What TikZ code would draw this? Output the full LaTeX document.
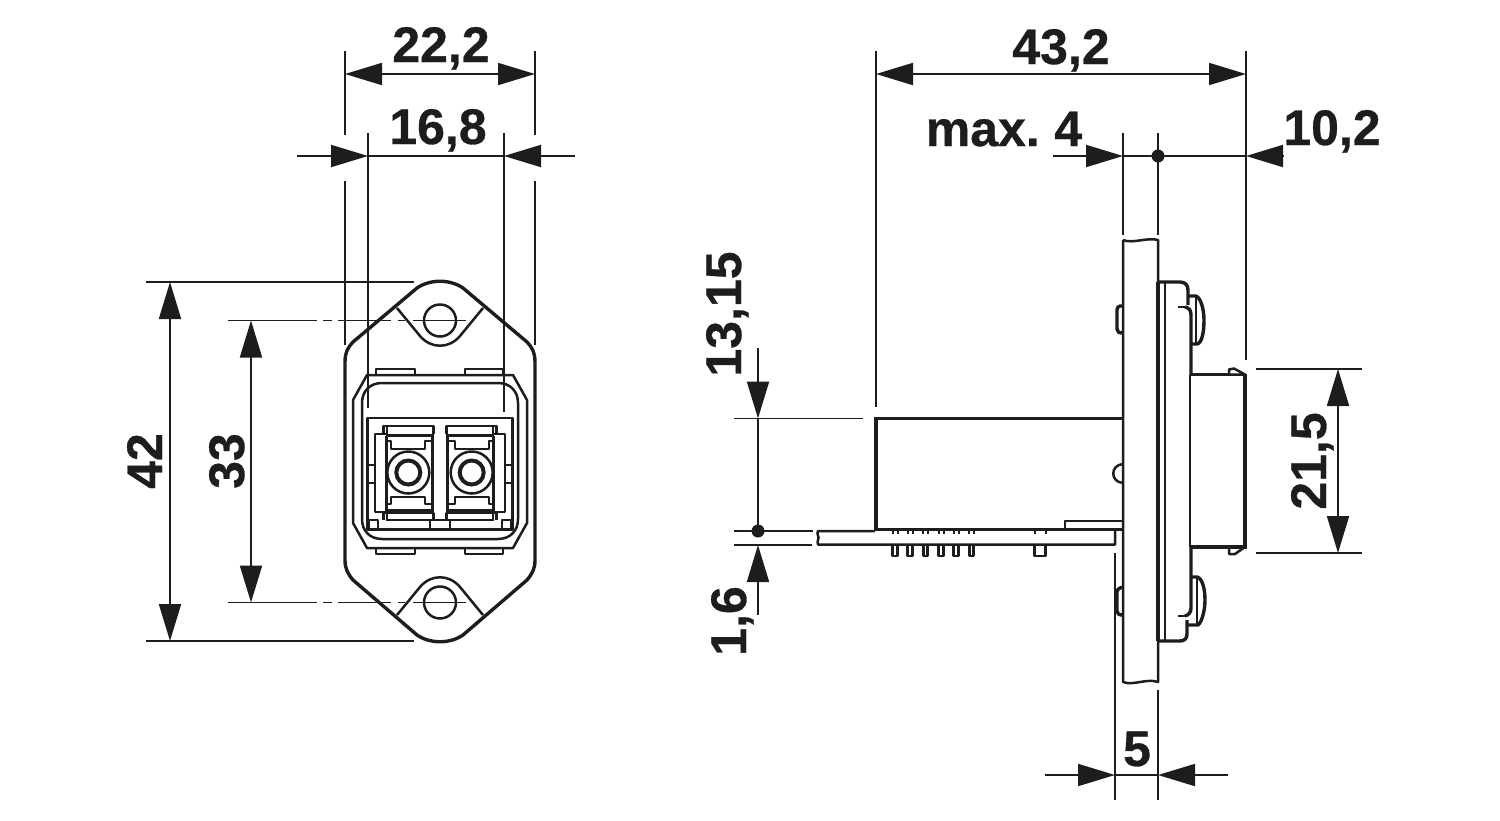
\documentclass[tikz,border=0pt]{standalone}
\usepackage{fontspec}
\setmainfont[WordSpace=0.72,BoldFeatures={FakeBold=0.6}]{Liberation Sans}
\usetikzlibrary{arrows.meta}
\tikzset{
  dim/.style={line width=1.9pt,draw=ink},
  dimar/.style={dim,-{Triangle[length=37pt,width=22pt]}},
  dimbar/.style={dim,{Triangle[length=37pt,width=22pt]}-{Triangle[length=37pt,width=22pt]}},
  ext/.style={line width=1.9pt,draw=ink},
  heavy/.style={line width=3.4pt,draw=ink,line join=round},
  mid/.style={line width=2.5pt,draw=ink,line join=round},
  thin2/.style={line width=2pt,draw=ink,line join=round},
  lab/.style={font=\fontsize{50}{50}\selectfont\bfseries,text=ink,inner sep=0pt,anchor=base},
  lbl/.style={lab,rotate=90}
}
\definecolor{ink}{HTML}{1D1D1B}
\begin{document}
\begin{tikzpicture}[x=1pt,y=-1pt]
\useasboundingbox (0,0) rectangle (1500,820);
% ---------- FRONT VIEW ----------
\draw[heavy] (417,288) .. controls (430,279) and (450,279) .. (463,288) -- (527,342)
  .. controls (532,347) and (535,353) .. (535,362) -- (535,560)
  .. controls (535,569) and (532,574) .. (527,580) -- (463,635)
  .. controls (450,644) and (430,644) .. (417,635) -- (353,580)
  .. controls (348,574) and (345,569) .. (345,560) -- (345,362)
  .. controls (345,353) and (348,347) .. (353,342) -- cycle;
\draw[mid] (397,308) -- (420,336) .. controls (431,349) and (449,349) .. (460,336) -- (483,308);
\draw[mid] (397,615) -- (420,587) .. controls (431,574) and (449,574) .. (460,587) -- (483,615);
\draw[mid] (440,320.5) circle (16);
\draw[mid] (440,602.5) circle (16);
% clips
\foreach \xa/\xb in {376/415,465/503}{
  \draw[mid] (\xa,375) -- (\xa,369) -- (\xb,369) -- (\xb,375);
  \draw[mid] (\xa,548) -- (\xa,554) -- (\xb,554) -- (\xb,548);
}
% frames
\draw[mid] (367,375) -- (513,375) -- (527,400) -- (527,523) -- (513,548) -- (367,548) -- (353,523) -- (353,400) -- cycle;
\draw[mid] (382,383) -- (498,383) .. controls (510,383) and (518,391) .. (518,403) -- (518,519)
  .. controls (518,531) and (510,539) .. (498,539) -- (382,539)
  .. controls (370,539) and (362,531) .. (362,519) -- (362,403)
  .. controls (362,391) and (370,383) .. (382,383) -- cycle;
\draw[mid] (367.5,530) -- (367.5,418) -- (512.5,418) -- (512.5,530);
\draw[line width=3.8pt,draw=ink] (367,529.5) -- (513,529.5);
% side bars
\foreach \xa/\xb in {367/375,505/513}{
  \draw[thin2] (\xa,465) -- (\xb,465) (\xa,483) -- (\xb,483);
}
% small bottom corners
\draw[thin2] (369,528) -- (369,520) -- (378,520) -- (378,528);
\draw[thin2] (511,528) -- (511,520) -- (502,520) -- (502,528);
% bottom centre bar
\draw[thin2] (386,520) -- (494,520);
\draw[mid] (430,520) -- (430,528) (450,520) -- (450,528);
% the two ports
\draw[mid] (375,434) -- (387,434) -- (387,512) -- (375,512) -- cycle;
\draw[mid] (505,434) -- (493,434) -- (493,512) -- (505,512) -- cycle;
\foreach \xo/\sg in {408.3/1,471.7/-1}{
  \begin{scope}[shift={(\xo,0)},xscale=\sg]
  \draw[mid] (-25,434) -- (-25,426) -- (25,426) -- (25,434);
  \draw[thin2] (-21.5,426) -- (-21.5,434);
  \draw[mid] (-25,520) -- (-25,513) -- (25,513) -- (25,520);
  \draw[thin2] (-21.5,513) -- (-21.5,520);
  \draw[line width=3.4pt,draw=ink] (-22,435.5) -- (24,435.5) -- (24,510.5) -- (-22,510.5);
  \draw[mid] (-22,435.5) -- (-22,510.5);
  \draw[thin2] (-22,441) -- (-17,441) -- (-17,449) -- (17,449) -- (17,441) -- (24,441);
  \draw[thin2] (-22,504) -- (-17,504) -- (-17,497) -- (17,497) -- (17,504) -- (24,504);
  \draw[mid] (0,472.5) circle (21);
  \draw[line width=4pt,draw=ink] (0,472.5) circle (12);
  \end{scope}
}
% centre lines
\foreach \yy in {320.5,602.5}{
  \draw[dim] (228,\yy) -- (317,\yy) (323,\yy) -- (332,\yy) (338,\yy) -- (391,\yy) (398,\yy) -- (405,\yy) (413,\yy) -- (466,\yy);
}
% extension lines front
\draw[ext] (345,51) -- (345,135) (345,181) -- (345,345);
\draw[ext] (535,51) -- (535,135) (535,181) -- (535,345);
\draw[ext] (368,133) -- (368,408);
\draw[ext] (504,133) -- (504,412);
\draw[ext] (146,282) -- (414,282) (146,641) -- (414,641);
% dims front
\draw[dimbar] (345,74) -- (535,74);
\draw[dim] (368,156) -- (504,156);
\draw[dimar] (297,156) -- (368,156);
\draw[dimar] (575,156) -- (504,156);
\draw[dimbar] (170,282) -- (170,641);
\draw[dimbar] (251,320.5) -- (251,602.5);
\node[lab] (t222) at (441,62) {22,2};
\node[lab] (t168) at (438,144) {16,8};
\node[lbl] (t42) at (162,461) {42};
\node[lbl] (t33) at (244,461) {33};
% ---------- SIDE VIEW ----------
% plate
\draw[mid] (1123,240) .. controls (1133,244) and (1147,237) .. (1158,240) -- (1158,282);
\draw[mid] (1123,240) -- (1123,682) .. controls (1133,686) and (1147,678) .. (1158,682) -- (1158,641);
\draw[line width=3.4pt,draw=ink] (1158,282) -- (1158,641);
\draw[thin2] (1165,282) -- (1165,641);
% flange
\draw[heavy] (1158,282) -- (1180,282) .. controls (1185,282) and (1188,285) .. (1188,290) -- (1188,305);
\draw[heavy] (1158,641) -- (1180,641) .. controls (1185,641) and (1187,638) .. (1187,634) -- (1187,620);
\draw[mid] (1178,307) -- (1185,307);
\draw[heavy] (1185,307) .. controls (1189,308) and (1191,310) .. (1191,315) -- (1191,375);
\draw[mid] (1178,616) -- (1185,616);
\draw[heavy] (1185,616) .. controls (1189,615) and (1191,612) .. (1191,608) -- (1191,547);
% screws
\draw[heavy] (1188,296) -- (1196,296) .. controls (1201,298) and (1204,310) .. (1204,320)
  .. controls (1204,332) and (1202,343) .. (1197,344) -- (1191,344);
\draw[thin2] (1196,296) -- (1196,344);
\draw[heavy] (1188,625) -- (1198,625) .. controls (1202,622) and (1205,610) .. (1205,600)
  .. controls (1205,588) and (1202,578) .. (1197,577) -- (1191,577);
\draw[thin2] (1197,577) -- (1197,625);
% barrel
\draw[thin2] (1190,375) -- (1190,547);
\draw[heavy] (1191,374.5) -- (1229,374.5);
\draw[heavy] (1191,547) -- (1229,547);
\draw[mid] (1229,374.5) -- (1229,369.5) -- (1234,368.5) -- (1245,374.5) -- cycle;
\draw[mid] (1229,547) -- (1229,554) -- (1235,554) -- (1245,547);
\draw[line width=3.4pt,draw=ink] (1245,374) -- (1245,547) -- (1229,547);
% left knobs
\draw[heavy] (1123,306) -- (1120,306) .. controls (1118,306) and (1117,308) .. (1117,310) -- (1117,329)
  .. controls (1117,332) and (1119,333) .. (1123,333);
\draw[heavy] (1123,587) -- (1120,588) .. controls (1118,589) and (1117,590) .. (1117,592) -- (1117,611)
  .. controls (1117,614) and (1119,615) .. (1123,615);
\draw[mid] (1123,464) .. controls (1110,465) and (1110,482) .. (1123,483);
% module
\draw[mid] (876,418.5) -- (1123,418.5);
\draw[line width=3.6pt,draw=ink] (875.7,417) -- (875.7,530);
\draw[line width=3.8pt,draw=ink] (875,529.5) -- (1123,529.5);
\draw[mid] (1065,528) -- (1065,521) -- (1123,521);
% PCB
\draw[mid] (875,531) -- (818,531) .. controls (816,534) and (820,537) .. (818,540) .. controls (817,542) and (818,543) .. (818,544.5) -- (1115,544.5) -- (1115,531);
% pins
\foreach \xx in {895,910,925.5,941,956,971.5}{
  \draw[line width=2.8pt,draw=ink,line join=round] (\xx-2.3,544) -- (\xx-2.3,556) -- (\xx+2.3,556) -- (\xx+2.3,544);
  \draw[thin2] (\xx-2.5,531) -- (\xx-2.5,534) (\xx+2.5,531) -- (\xx+2.5,534);
}
\draw[line width=2.8pt,draw=ink,line join=round] (1034.5,544) -- (1034.5,556) -- (1045.5,556) -- (1045.5,544);
\draw[thin2] (1034.5,531) -- (1034.5,534) (1045.5,531) -- (1045.5,534);
% extension lines side
\draw[ext] (876,51) -- (876,407);
\draw[ext] (1246,51) -- (1246,360);
\draw[ext] (1123,133) -- (1123,235);
\draw[ext] (1158,133) -- (1158,235);
\draw[ext] (1158,690) -- (1158,800);
\draw[ext] (1115,553) -- (1115,800);
\draw[ext] (1256,369) -- (1362,369) (1256,553) -- (1362,553);
\draw[ext] (734,418.5) -- (863,418.5) (734,531) -- (813,531) (734,545) -- (812,545);
% dims side
\draw[dimbar] (876,74) -- (1246,74);
\draw[dim] (1123,156) -- (1246,156);
\draw[dimar] (1053,156) -- (1123,156);
\draw[dimar] (1283,156) -- (1246,156);
\fill[ink] (1158,156) circle (6.5);
\draw[dimar] (758,348) -- (758,418.5);
\draw[dim] (758,418.5) -- (758,531);
\fill[ink] (758,531) circle (6.5);
\draw[dimar] (758,615) -- (758,545);
\draw[dimbar] (1338,369) -- (1338,553);
\draw[dim] (1115,775) -- (1158,775);
\draw[dimar] (1045,775) -- (1115,775);
\draw[dimar] (1228,775) -- (1158,775);
\node[lab] (t432) at (1061,64) {43,2};
\node[lab] (tmax) at (1004,146) {max. 4};
\node[lab] (t102) at (1332,145) {10,2};
\node[lab] (t5) at (1137,766) {5};
\node[lbl] (t1315) at (741,314) {13,15};
\node[lbl] (t16) at (746,621) {1,6};
\node[lbl] (t215) at (1326,461) {21,5};
\end{tikzpicture}
\end{document}
